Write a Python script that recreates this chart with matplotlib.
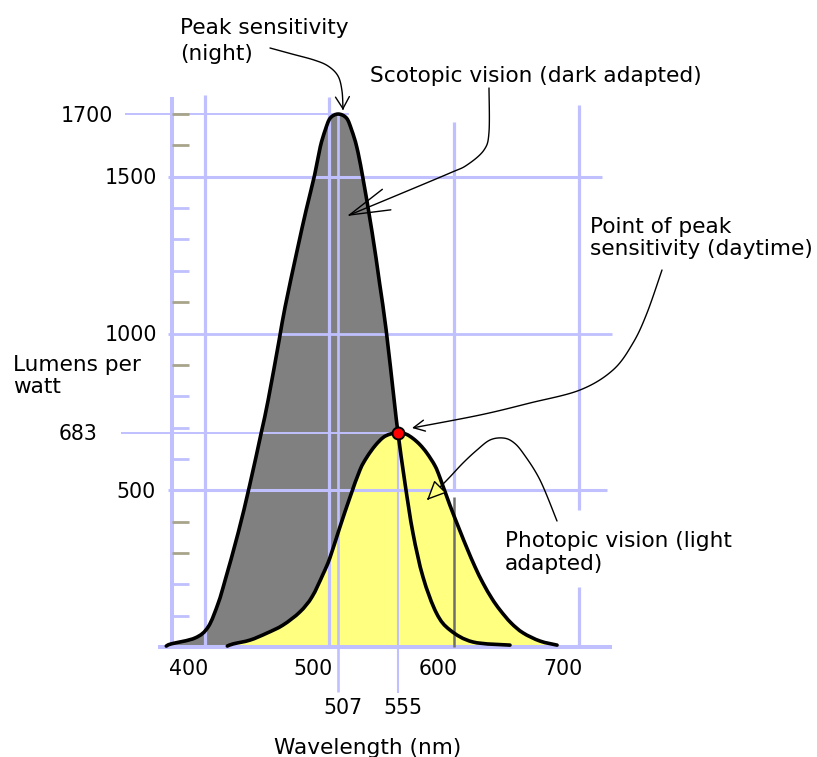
import numpy as np
import matplotlib
matplotlib.use("Agg")
import matplotlib.pyplot as plt
import matplotlib.transforms as mtransforms
from matplotlib.patches import FancyArrowPatch, PathPatch
from matplotlib.path import Path

# ---- luminous efficacy curves (wavelength in nm, lumens per watt) ----
scotopic_nm = [369, 373, 392.2, 402.6, 410.7, 416.3, 426.7, 436.0, 445.2, 450.8, 459.6,
               464.4, 474.1, 481.3, 488.1, 492.6, 496.6, 500.6, 507,
               513.7, 517.8, 521.9, 526.4, 534.3, 540.2, 545.5, 551.9, 555,
               560.6, 567.0, 575.1, 585.9, 596.8, 615.2, 644.9]
scotopic_lm = [3, 10, 29, 64, 140, 214, 364, 517, 683, 788, 979,
               1085, 1266, 1394, 1506, 1595, 1649, 1687, 1700,
               1687, 1649, 1595, 1506, 1321, 1161, 1011, 788, 683,
               523, 364, 223, 108, 54, 16, 6]

photopic_nm = [418, 422.8, 436.2, 449.6, 462.7, 476.3, 486.0, 494.8, 500.4, 508.4, 516.5,
               524.5, 530.1, 536.6, 543.0, 548.6, 555,
               561.4, 567.1, 572.7, 578.3, 584.7, 588.7, 596.7, 604.8, 610.4,
               616.8, 623.2, 630.5, 636.9, 645.7, 655.4, 669.0, 682.7]
photopic_lm = [3, 10, 22, 44, 70, 112, 160, 232, 285, 383, 478,
               565, 606, 642, 668, 679, 683,
               679, 665, 645, 618, 578, 540, 452, 370, 315,
               256, 204, 154, 118, 77, 45, 19, 6]

night_peak = (507, 1700)
day_peak = (555, 683)

wavelength_ticks = [400, 500, 600, 700]
wavelength_marks = [507, 555]
efficacy_labels = [1700, 1500, 1000, 683, 500]
minor_ticks = [1700, 1600, 1400, 1300, 1200, 1100, 900, 800, 700, 600,
               400, 300, 200, 100]
minor_tick_tan = [True, True, False, False, False, True, True, False, False, False,
                  True, True, False, False]

# ---- canvas ----------------------------------------------------------------
W, H, DPI = 817, 757, 100
X400_PX, X_SCALE = 204.9, 1.2457      # pixel column of 400 nm, px per nm
Y0_PX, Y_SCALE = 647.0, 0.3135        # pixel row of 0 lm/W, px per lm/W

GRID = "#c0c0ff"
TAN = "#a8a48a"
GRAY = "#808080"
YELLOW = "#ffff80"

plt.rcParams["font.family"] = ["DejaVu Sans"]
fig = plt.figure(figsize=(W / DPI, H / DPI), dpi=DPI)
fig.patch.set_facecolor("white")
ax = fig.add_axes([0, 0, 1, 1])
ax.set_xlim(400 - X400_PX / X_SCALE, 400 + (W - X400_PX) / X_SCALE)
ax.set_ylim(-(H - Y0_PX) / Y_SCALE, Y0_PX / Y_SCALE)
ax.axis("off")

# pixel layout coordinates, measured from the top-left corner
PX = mtransforms.Affine2D().scale(1 / DPI, -1 / DPI).translate(0, H / DPI) + fig.dpi_scale_trans


def shift(dx=0.0, dy=0.0):
    return mtransforms.ScaledTranslation(dx / DPI, -dy / DPI, fig.dpi_scale_trans)


def curve_through(xs, ys):
    """Smooth cubic Bezier path that passes through every (x, y) point."""
    p = np.column_stack([xs, ys]).astype(float)
    ext = np.vstack([p[0], p, p[-1]])
    verts, codes = [p[0]], [Path.MOVETO]
    for i in range(len(p) - 1):
        a, b, c, d = ext[i], ext[i + 1], ext[i + 2], ext[i + 3]
        verts += [b + (c - a) / 6, c - (d - b) / 6, c]
        codes += [Path.CURVE4] * 3
    return verts, codes


# ---- filled curves ---------------------------------------------------------
for (xs, ys), color, z in [((scotopic_nm, scotopic_lm), GRAY, 1),
                           ((photopic_nm, photopic_lm), YELLOW, 2)]:
    verts, codes = curve_through(xs, ys)
    verts = verts + [(xs[-1], 0), (xs[0], 0), (xs[0], 0)]
    codes = codes + [Path.LINETO, Path.LINETO, Path.CLOSEPOLY]
    ax.add_patch(PathPatch(Path(verts, codes), fc=color, ec="none", lw=0, zorder=z))


# ---- grid ------------------------------------------------------------------
def seg(xs, ys, lw, color=GRID, z=3):
    ax.plot(xs, ys, color=color, lw=lw, solid_capstyle="butt", zorder=z)


axis_x = 373.6
seg([axis_x, axis_x], [0, 1754], 2.9)          # value axis
seg([362, 727], [0, 0], 2.9)                   # wavelength axis
seg([400, 400], [0, 1761], 2.3)
seg([500, 500], [0, 1754], 2.3)
seg([600, 600], [500, 1676], 2.3)
seg([600, 600], [0, 480], 1.8, color="#6e6e6e", z=3.5)
seg([700, 700], [0, 191], 2.3)
seg([700, 700], [437, 1729], 2.3)
seg([night_peak[0]] * 2, [-144, night_peak[1]], 1.9)
seg([day_peak[0]] * 2, [-147, day_peak[1]], 1.5)
seg([370, 719], [1500, 1500], 2.2)
seg([370, 727], [1000, 1000], 2.0)
seg([370, 723], [500, 500], 2.2)
seg([336, 516], [night_peak[1]] * 2, 1.4)
seg([333, day_peak[0]], [day_peak[1]] * 2, 1.4)

for val, tan in zip(minor_ticks, minor_tick_tan):
    seg([axis_x, 387.5], [val, val], 2.0, color=TAN if tan else GRID)

# ---- curves ----------------------------------------------------------------
for xs, ys in [(scotopic_nm, scotopic_lm), (photopic_nm, photopic_lm)]:
    verts, codes = curve_through(xs, ys)
    ax.add_patch(PathPatch(Path(verts, codes), fill=False, ec="black", lw=2.6,
                           capstyle="round", joinstyle="round", zorder=4))
ax.plot([day_peak[0]], [day_peak[1]], "o", ms=8.6, mfc="#ff0000", mec="black",
        mew=1.4, zorder=5)

# ---- tick labels -----------------------------------------------------------
NUM = 14.8
x_lab = mtransforms.blended_transform_factory(ax.transData, PX)
for v in wavelength_ticks:
    ax.text(v, 675, str(v), transform=x_lab + shift(-16, 0), ha="center",
            va="baseline", fontsize=NUM, zorder=7)
for v in wavelength_marks:
    ax.text(v, 714, str(v), transform=x_lab + shift(5, 0), ha="center",
            va="baseline", fontsize=NUM, zorder=7)

y_lab = mtransforms.blended_transform_factory(PX, ax.transData)
label_right = [113, 157, 157, 97, 156]
for v, xr in zip(efficacy_labels, label_right):
    ax.text(xr, v, str(v), transform=y_lab + shift(0, 7.5), ha="right",
            va="baseline", fontsize=NUM, zorder=7)

# ---- words (baseline given for the last line) ------------------------------
TXT = 15.6
ax.text(13, 393, "Lumens per\nwatt", transform=PX, fontsize=TXT, va="baseline",
        linespacing=1.15)
ax.text(367.5, 754, "Wavelength (nm)", transform=PX, fontsize=TXT, ha="center",
        va="baseline")
ax.text(180, 60, "Peak sensitivity\n(night)", transform=PX, fontsize=TXT,
        va="baseline", linespacing=1.4)
ax.text(370, 82, "Scotopic vision (dark adapted)", transform=PX, fontsize=TXT,
        va="baseline")
ax.text(590, 255, "Point of peak\nsensitivity (daytime)", transform=PX,
        fontsize=TXT, va="baseline", linespacing=1.12)
ax.text(505, 570, "Photopic vision (light\nadapted)", transform=PX, fontsize=TXT,
        va="baseline", linespacing=1.21)


# ---- leader lines ----------------------------------------------------------
def smooth(points, n=14):
    p = np.asarray(points, float)
    p = np.vstack([p[0], p, p[-1]])
    out = []
    for i in range(1, len(p) - 2):
        p0, p1, p2, p3 = p[i - 1], p[i], p[i + 1], p[i + 2]
        for t in np.linspace(0, 1, n, endpoint=False):
            out.append(0.5 * (2 * p1 + (-p0 + p2) * t
                              + (2 * p0 - 5 * p1 + 4 * p2 - p3) * t ** 2
                              + (-p0 + 3 * p1 - 3 * p2 + p3) * t ** 3))
    out.append(p[-2])
    return np.array(out)


def leader(points, style, fc="none"):
    arrow = FancyArrowPatch(path=Path(smooth(points)), arrowstyle=style,
                            transform=PX, ec="black", fc=fc, lw=1.0,
                            mutation_scale=10, zorder=6)
    ax.add_patch(arrow)


leader([(270, 48), (292, 54), (314, 60), (328, 66), (338, 76), (342, 91), (343, 110)],
       "->,head_length=0.85,head_width=0.5")
leader([(489, 88), (489, 132), (484, 150), (467, 165), (450, 173), (400, 194), (347, 216)],
       "->,head_length=2.9,head_width=0.8")
leader([(662, 270), (647, 313), (633, 343), (613, 370), (580, 390), (530, 403),
        (480, 415), (412, 428)],
       "->,head_length=0.8,head_width=0.4")
leader([(557, 521), (540, 480), (523, 453), (513, 442), (503, 438), (490, 440),
        (477, 450), (463, 463), (447, 480), (427, 500)],
       "-|>,head_length=1.2,head_width=0.55", fc=YELLOW)

fig.savefig("out.png", dpi=DPI, facecolor="white")
